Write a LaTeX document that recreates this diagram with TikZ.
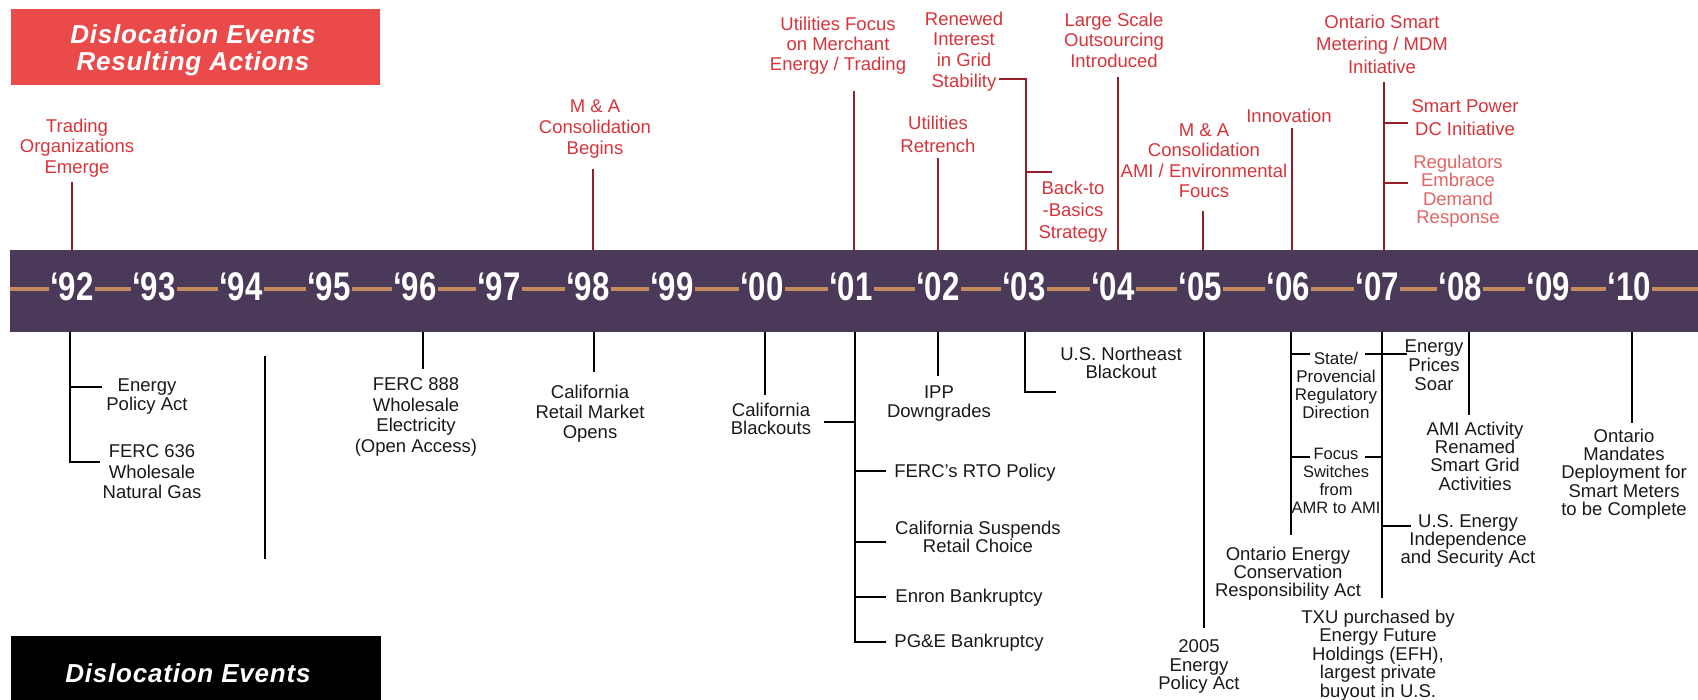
\documentclass[tikz,border=0pt]{standalone}
\usepackage{fontspec}
\setmainfont{Liberation Sans}
\newfontfamily\yearfont[FakeStretch=0.78]{Liberation Sans}
\newfontfamily\titlefont[LetterSpace=3]{Liberation Sans}

\definecolor{bandc}{RGB}{75,57,90}
\definecolor{orangec}{RGB}{196,140,90}
\definecolor{titlered}{RGB}{234,74,74}
\definecolor{rtext}{RGB}{214,52,58}
\definecolor{rline}{RGB}{150,30,40}
\definecolor{rlight}{RGB}{226,100,100}
\definecolor{btext}{RGB}{25,25,25}

\begin{document}
\begin{tikzpicture}[x=1pt,y=-1pt,
  redtxt/.style={text=rtext, align=center, inner sep=0pt, anchor=north,
    font={\fontsize{18.5}{#1}\selectfont}},
  redtxt/.default=20.5,
  blktxt/.style={text=btext, align=center, inner sep=0pt, anchor=north,
    font={\fontsize{18.5}{#1}\selectfont}},
  blktxt/.default=19,
  redln/.style={draw=rline, line width=2.4pt},
  blkln/.style={draw=black, line width=2.4pt},
  bandbox/.style={fill=bandc, anchor=north west, minimum width=1688pt,
    minimum height=82pt, inner sep=0pt, outer sep=0pt},
  orangeln/.style={draw=orangec, line width=3.5pt},
  yearlbl/.style={fill=bandc, text=white, inner xsep=1pt, inner ysep=0pt,
    font={\yearfont\bfseries\fontsize{40}{40}\selectfont}},
  titletxt/.style={text=white, align=center, inner sep=0pt,
    font={\titlefont\bfseries\itshape\fontsize{26}{27}\selectfont}}
]
\useasboundingbox (0,0) rectangle (1698,700);

% ---------- title boxes ----------
\node[fill=titlered, anchor=north west, minimum width=369pt, minimum height=76pt,
      inner sep=0pt] (topbox) at (11,9) {};
\node[titletxt, anchor=north] (toptitle) at (193,24.5) {Dislocation Events\\Resulting Actions};
\node[fill=black, anchor=north west, minimum width=370pt, minimum height=70pt,
      inner sep=0pt] (botbox) at (11,636) {};
\node[titletxt, anchor=base] (bottitle) at (188,682) {Dislocation Events};

% ---------- timeline band ----------
\node[bandbox] (band) at (10,250) {};
\coordinate (oL) at (10,289);
\coordinate (oR) at (1698,289);
\draw[orangeln] (oL) -- (oR);
\foreach \yr/\xx in {92/72,93/154,94/241,95/329,96/415,97/499,98/588,99/672,
  00/762,01/851,02/938,03/1024,04/1113,05/1200,06/1288,07/1377,08/1460,09/1548,10/1629}
  \node[yearlbl] (y\yr) at (\xx,287) {‘\yr};

% ---------- resulting actions (above) ----------
\node[redtxt] (trading) at (77,118.5) {Trading\\Organizations\\Emerge};
\coordinate (u92) at (72,182);
\draw[redln] (u92) -- (u92 |- band.north);

\node[redtxt={21}] (ma98) at (595,99.5) {M \& A\\Consolidation\\Begins};
\coordinate (u98) at (593,169);
\draw[redln] (u98) -- (u98 |- band.north);

\node[redtxt={20}] (merchant) at (838,16.5) {Utilities Focus\\on Merchant\\Energy / Trading};
\coordinate (u01) at (854,91);
\draw[redln] (u01) -- (u01 |- band.north);

\node[redtxt={23}] (retrench) at (938,115.5) {Utilities\\Retrench};
\coordinate (u02) at (938,158);
\draw[redln] (u02) -- (u02 |- band.north);

\node[redtxt={20.7}] (renewed) at (964,11.5) {Renewed\\Interest\\in Grid\\Stability};
\node[redtxt={22}] (basics) at (1073,180.5) {Back-to\\-Basics\\Strategy};
\coordinate (u03a) at (999,79);
\coordinate (u03) at (1026,79);
\coordinate (u03b) at (1052,172);
\draw[redln] (u03a) -- (u03) -- (u03 |- band.north);
\draw[redln] (u03b -| u03) -- (u03b);

\node[redtxt={20.7}] (outsrc) at (1114,12.5) {Large Scale\\Outsourcing\\Introduced};
\coordinate (u04) at (1118,77);
\draw[redln] (u04) -- (u04 |- band.north);

\node[redtxt] (ma05) at (1204,123.5) {M \& A\\Consolidation\\AMI / Environmental\\Foucs};
\coordinate (u05) at (1203,211);
\draw[redln] (u05) -- (u05 |- band.north);

\node[redtxt] (innov) at (1289,109) {Innovation};
\coordinate (u06) at (1292,128);
\draw[redln] (u06) -- (u06 |- band.north);

\node[redtxt={22.5}] (ontsm) at (1382,14.5) {Ontario Smart\\Metering / MDM\\Initiative};
\node[redtxt={23}] (smartdc) at (1465,99.5) {Smart Power\\DC Initiative};
\node[redtxt={18.5}, text=rlight] (regs) at (1458,154.5) {Regulators\\Embrace\\Demand\\Response};
\coordinate (u07) at (1384,82);
\coordinate (u07a) at (1408,123);
\coordinate (u07b) at (1408,183);
\draw[redln] (u07) -- (u07 |- band.north);
\draw[redln] (u07a -| u07) -- (u07a);
\draw[redln] (u07b -| u07) -- (u07b);

% ---------- dislocation events (below) ----------
\node[blktxt] (epact) at (147,378.5) {Energy\\Policy Act};
\node[blktxt={20.5}] (ferc636) at (152,444.5) {FERC 636\\Wholesale\\Natural Gas};
\coordinate (d92) at (70,462);
\coordinate (d92a) at (102,387);
\coordinate (d92b) at (100,462);
\draw[blkln] (d92 |- band.south) -- (d92) -- (d92b);
\draw[blkln] (d92a -| d92) -- (d92a);

\coordinate (d94a) at (265,356);
\coordinate (d94b) at (265,559);
\draw[blkln] (d94a) -- (d94b);

\node[blktxt={20.5}] (ferc888) at (416,377.5) {FERC 888\\Wholesale\\Electricity\\(Open Access)};
\coordinate (d96) at (423,369);
\draw[blkln] (d96 |- band.south) -- (d96);

\node[blktxt={20}] (calretail) at (590,384.5) {California\\Retail Market\\Opens};
\coordinate (d98) at (594,372);
\draw[blkln] (d98 |- band.south) -- (d98);

\node[blktxt={18}] (calblack) at (771,402.5) {California\\Blackouts};
\coordinate (d00) at (765,395);
\draw[blkln] (d00 |- band.south) -- (d00);

\node[blktxt] (fercrto) at (975,463.5) {FERC's RTO Policy};
\node[blktxt={18.5}] (calsusp) at (978,520.5) {California Suspends\\Retail Choice};
\node[blktxt] (enron) at (969,588.5) {Enron Bankruptcy};
\node[blktxt] (pge) at (969,633.5) {PG\&E Bankruptcy};
\coordinate (d01) at (855,642);
\coordinate (d01x) at (824,422);
\coordinate (d01a) at (886,471);
\coordinate (d01b) at (886,542);
\coordinate (d01c) at (886,597);
\coordinate (d01d) at (886,642);
\draw[blkln] (d01 |- band.south) -- (d01) -- (d01d);
\draw[blkln] (d01x) -- (d01x -| d01);
\draw[blkln] (d01a -| d01) -- (d01a);
\draw[blkln] (d01b -| d01) -- (d01b);
\draw[blkln] (d01c -| d01) -- (d01c);

\node[blktxt] (ipp) at (939,385.5) {IPP\\Downgrades};
\coordinate (d02) at (938,376);
\draw[blkln] (d02 |- band.south) -- (d02);

\node[blktxt={18.5}] (usne) at (1121,346.5) {U.S. Northeast\\Blackout};
\coordinate (d03) at (1025,392);
\coordinate (d03a) at (1056,392);
\draw[blkln] (d03 |- band.south) -- (d03) -- (d03a);

\node[blktxt={18.5}] (ep2005) at (1199,639.5) {2005\\Energy\\Policy Act};
\coordinate (d05) at (1204,628);
\draw[blkln] (d05 |- band.south) -- (d05);

\node[blktxt={18.3}, font={\fontsize{17}{18.3}\selectfont}] (state) at (1336,351.5)
  {State/\\Provencial\\Regulatory\\Direction};
\node[blktxt={18.3}, font={\fontsize{16.5}{18.3}\selectfont}] (focus) at (1336,447.5)
  {Focus\\Switches\\from\\AMR to AMI};
\node[blktxt={18}] (ontact) at (1288,546.5) {Ontario Energy\\Conservation\\Responsibility Act};
\coordinate (d06) at (1291,535);
\coordinate (d06a) at (1310,354);
\coordinate (d06b) at (1310,457);
\draw[blkln] (d06 |- band.south) -- (d06);
\draw[blkln] (d06a -| d06) -- (d06a);
\draw[blkln] (d06b -| d06) -- (d06b);

\node[blktxt] (eprices) at (1434,339.5) {Energy\\Prices\\Soar};
\node[blktxt={17.7}] (usenergy) at (1468,514.5) {U.S. Energy\\Independence\\and Security Act};
\node[blktxt={18.5}] (txu) at (1378,609.5)
  {TXU purchased by\\Energy Future\\Holdings (EFH),\\largest private\\buyout in U.S.};
\coordinate (d07) at (1382,598);
\coordinate (d07s) at (1365,354);
\coordinate (d07e) at (1407,354);
\coordinate (d07f) at (1365,457);
\coordinate (d07u) at (1411,526);
\draw[blkln] (d07 |- band.south) -- (d07);
\draw[blkln] (d07s) -- (d07e);
\draw[blkln] (d07f) -- (d07f -| d07);
\draw[blkln] (d07u -| d07) -- (d07u);

\node[blktxt={18.3}] (amiact) at (1475,421.5) {AMI Activity\\Renamed\\Smart Grid\\Activities};
\coordinate (d08) at (1469,415);
\draw[blkln] (d08 |- band.south) -- (d08);

\node[blktxt={18.3}] (ontmand) at (1624,428.5)
  {Ontario\\Mandates\\Deployment for\\Smart Meters\\to be Complete};
\coordinate (d10) at (1632,423);
\draw[blkln] (d10 |- band.south) -- (d10);
\end{tikzpicture}
\end{document}
